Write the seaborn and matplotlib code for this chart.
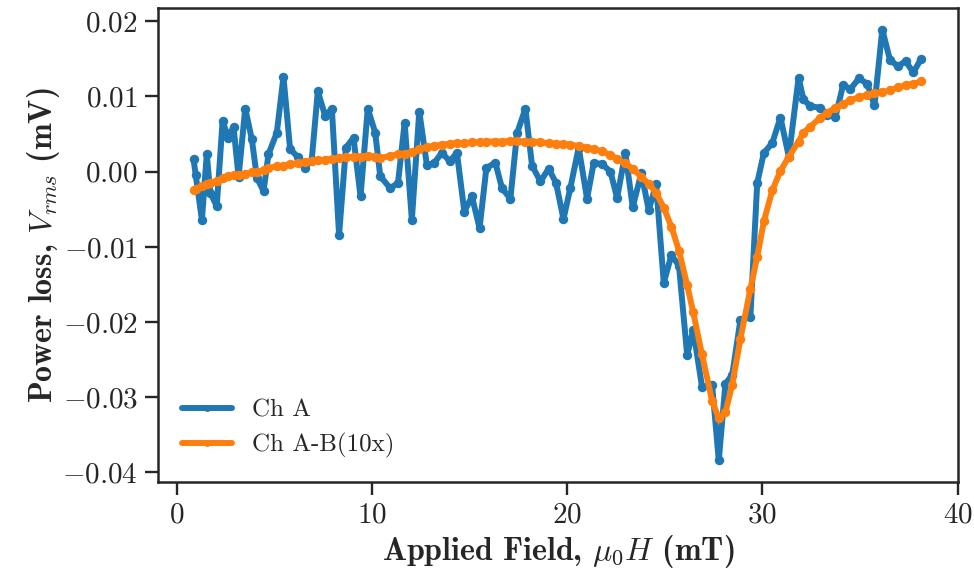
import numpy as np
import pandas as pd
import matplotlib
matplotlib.use("Agg")
import matplotlib.pyplot as plt
import seaborn as sns

field = [0.84, 0.95, 1.27, 1.52, 1.70, 2.03, 2.33, 2.63, 2.89, 3.15,
         3.49, 3.83, 4.09, 4.43, 4.68, 5.11, 5.45, 5.79, 6.17, 6.53,
         6.90, 7.21, 7.59, 7.93, 8.30, 8.65, 9.04, 9.40, 9.77, 10.15,
         10.41, 10.92, 11.32, 11.66, 12.03, 12.41, 12.80, 13.15, 13.57, 13.97,
         14.34, 14.72, 15.11, 15.50, 15.85, 16.31, 16.65, 17.08, 17.42, 17.85,
         18.19, 18.62, 19.04, 19.42, 19.80, 20.15, 20.58, 21.01, 21.35, 21.78,
         22.21, 22.55, 22.97, 23.35, 23.79, 24.17, 24.55, 24.94, 25.33, 25.72,
         26.14, 26.45, 26.90, 27.42, 27.76, 28.10, 28.45, 28.87, 29.38, 29.73,
         30.07, 30.50, 30.92, 31.35, 31.85, 32.10, 32.46, 32.97, 33.30, 33.74,
         34.13, 34.51, 34.94, 35.37, 35.74, 36.14, 36.53, 36.94, 37.33, 37.73,
         38.13]

ch_a = [0.0017, -0.0004, -0.0064, 0.0023, -0.0028, -0.0046, 0.0067, 0.0045, 0.0060, -0.0007,
        0.0084, 0.0043, -0.0008, -0.0026, 0.0023, 0.0052, 0.0126, 0.0030, 0.0020, 0.0005,
        0.0016, 0.0107, 0.0074, 0.0084, -0.0084, 0.0032, 0.0045, -0.0033, 0.0084, 0.0052,
        -0.0006, -0.0022, -0.0015, 0.0065, -0.0064, 0.0080, 0.0009, 0.0011, 0.0025, 0.0014,
        0.0025, -0.0053, -0.0033, -0.0075, 0.0005, 0.0012, -0.0022, -0.0036, 0.0051, 0.0084,
        0.0008, -0.0013, 0.0004, -0.0015, -0.0063, -0.0022, 0.0032, -0.0036, 0.0012, 0.0010,
        0.0000, -0.0035, 0.0025, -0.0047, -0.0002, -0.0051, -0.0017, -0.0148, -0.0111, -0.0125,
        -0.0244, -0.0210, -0.0286, -0.0284, -0.0384, -0.0282, -0.0270, -0.0197, -0.0193, -0.0015,
        0.0025, 0.0038, 0.0072, 0.0020, 0.0125, 0.0096, 0.0087, 0.0085, 0.0076, 0.0073,
        0.0115, 0.0110, 0.0124, 0.0117, 0.0088, 0.0189, 0.0149, 0.0140, 0.0147, 0.0132,
        0.0150]

ch_ab = [-0.0025, -0.0023, -0.0019, -0.0017, -0.0015, -0.0012, -0.0009, -0.0006, -0.0005, -0.0004,
         -0.0003, -0.0001, 0.0000, 0.0002, 0.0005, 0.0007, 0.0008, 0.0010, 0.0011, 0.0013,
         0.0014, 0.0015, 0.0016, 0.0017, 0.0018, 0.0019, 0.0020, 0.0020, 0.0021, 0.0020,
         0.0018, 0.0021, 0.0023, 0.0024, 0.0026, 0.0030, 0.0033, 0.0034, 0.0036, 0.0037,
         0.0038, 0.0038, 0.0039, 0.0039, 0.0040, 0.0040, 0.0040, 0.0041, 0.0041, 0.0040,
         0.0040, 0.0039, 0.0038, 0.0037, 0.0037, 0.0036, 0.0034, 0.0032, 0.0030, 0.0027,
         0.0022, 0.0017, 0.0011, 0.0004, -0.0007, -0.0016, -0.0028, -0.0048, -0.0073, -0.0105,
         -0.0151, -0.0187, -0.0243, -0.0305, -0.0328, -0.0320, -0.0283, -0.0222, -0.0156, -0.0113,
         -0.0066, -0.0025, 0.0001, 0.0020, 0.0040, 0.0052, 0.0060, 0.0072, 0.0078, 0.0085,
         0.0090, 0.0095, 0.0099, 0.0102, 0.0104, 0.0106, 0.0108, 0.0112, 0.0115, 0.0117,
         0.0120]

series_names = ["Ch A", "Ch A-B(10x)"]
x_ticks = [0, 10, 20, 30, 40]
y_ticks = [0.02, 0.01, 0.0, -0.01, -0.02, -0.03, -0.04]

df = pd.DataFrame({
    "field": field * 2,
    "value": ch_a + ch_ab,
    "series": [series_names[0]] * len(field) + [series_names[1]] * len(field),
})

sns.set_theme(style="ticks")
plt.rcParams["font.family"] = ["cmr10", "DejaVu Serif"]
plt.rcParams["mathtext.fontset"] = "cm"
plt.rcParams["axes.formatter.use_mathtext"] = True
plt.rcParams["axes.unicode_minus"] = True

fig = plt.figure(figsize=(9.74, 5.75), dpi=100)
ax = fig.add_axes([158 / 974, 1 - 482 / 575, 800 / 974, 474 / 575])

sns.lineplot(data=df, x="field", y="value", hue="series",
             palette=["#1f77b4", "#ff7f0e"], marker="o", markersize=6.8,
             markeredgewidth=0, linewidth=4.3, estimator=None, sort=False, ax=ax)

for s in ax.spines.values():
    s.set_visible(True)
    s.set_color("#262626")
    s.set_linewidth(1.8)

ax.tick_params(axis="both", which="major", length=9.5, width=1.7, color="#262626",
               labelsize=21, labelcolor="#262626", direction="out", pad=5)
ax.set_xticks(x_ticks)
ax.set_yticks(y_ticks)
ax.set_xlim(-0.98, 40.02)
ax.margins(y=0.05)

ax.set_xlabel(r"Applied Field, $\mu_0 H$ (mT)", fontsize=23, family=["cmb10", "DejaVu Serif"],
              color="#262626", labelpad=3)
ax.set_ylabel(r"Power loss, $V_{rms}$ (mV)", fontsize=23, family=["cmb10", "DejaVu Serif"],
              color="#262626", labelpad=0)

leg = ax.legend(loc="lower left", frameon=False, fontsize=18, handlelength=2.0,
                handletextpad=0.8, borderaxespad=0.55, labelspacing=0.45)
for t in leg.get_texts():
    t.set_color("#262626")
for h in leg.get_lines():
    h.set_linewidth(4.3)
    h.set_markersize(5)

fig.savefig("out.png", dpi=100)
